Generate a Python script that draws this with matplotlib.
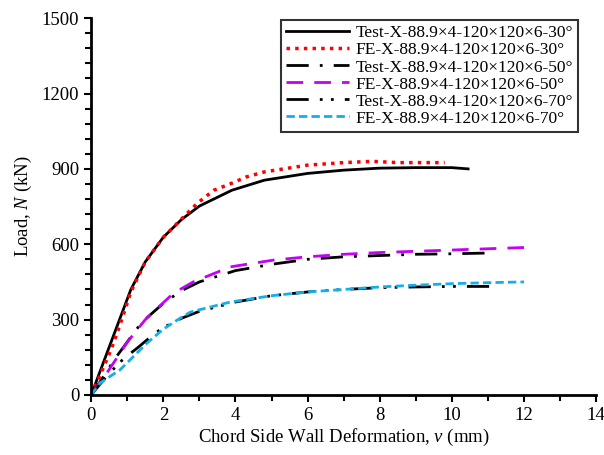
import matplotlib.pyplot as plt
from matplotlib.ticker import MultipleLocator

plt.rcParams["font.family"] = ["Liberation Serif", "DejaVu Serif"]
plt.rcParams["mathtext.fontset"] = "custom"
plt.rcParams["mathtext.it"] = "Liberation Serif:italic"
plt.rcParams["mathtext.rm"] = "Liberation Serif"

# load-deformation curves
test30_x = [0, 1.1, 1.5, 2.0, 2.5, 3.0, 3.9, 4.8, 6.0, 7.0, 8.0, 9.0, 10.0, 10.45]
test30_y = [0, 420, 530, 628, 698, 752, 815, 855, 882, 895, 903, 905, 905, 900]
fe30_x = [0, 0.25, 0.55, 0.8, 1.1, 1.5, 2.0, 2.5, 2.95, 3.4, 3.9, 4.3, 4.8, 6.0, 7.0, 7.8, 8.5, 9.8]
fe30_y = [0, 80, 180, 280, 410, 530, 628, 700, 764, 815, 843, 868, 888, 915, 925, 930, 925, 925]
test50_x = [0, 0.35, 0.67, 0.9, 1.2, 1.42, 2.0, 2.5, 3.0, 4.0, 5.0, 6.0, 7.0, 8.0, 9.0, 10.0, 11.0]
test50_y = [0, 75, 147, 191, 251, 291, 365, 415, 450, 495, 520, 540, 550, 555, 560, 562, 565]
fe50_x = [0, 0.4, 1.0, 1.5, 2.28, 2.83, 3.86, 5.06, 6.0, 7.0, 8.0, 10.0, 12.0]
fe50_y = [0, 80, 210, 300, 405, 450, 510, 537, 550, 560, 567, 577, 587]
test70_x = [0, 0.4, 0.8, 1.03, 1.28, 1.78, 2.0, 2.5, 3.0, 4.0, 5.0, 6.0, 7.0, 8.0, 9.0, 10.0, 11.2]
test70_y = [0, 70, 131, 159, 187, 247, 268, 305, 333, 370, 395, 410, 420, 427, 430, 432, 432]
fe70_x = [0, 0.25, 0.8, 1.55, 2.0, 2.47, 2.75, 3.3, 3.86, 5.0, 6.0, 7.0, 8.0, 9.0, 10.0, 11.0, 12.0]
fe70_y = [0, 48, 100, 207, 262, 306, 330, 350, 370, 395, 410, 420, 430, 437, 443, 447, 450]

labels = [
    "Test-X-88.9\u00d74-120\u00d7120\u00d76-30\u00b0",
    "FE-X-88.9\u00d74-120\u00d7120\u00d76-30\u00b0",
    "Test-X-88.9\u00d74-120\u00d7120\u00d76-50\u00b0",
    "FE-X-88.9\u00d74-120\u00d7120\u00d76-50\u00b0",
    "Test-X-88.9\u00d74-120\u00d7120\u00d76-70\u00b0",
    "FE-X-88.9\u00d74-120\u00d7120\u00d76-70\u00b0",
]

fig = plt.figure(figsize=(6.04, 4.55), dpi=100)
ax = fig.add_axes([0.151, 0.132, 0.836, 0.828])

ax.plot(test30_x, test30_y, color="black", lw=2, label=labels[0])
ax.plot(fe30_x, fe30_y, color="red", lw=2.5, linestyle=(0, (1, 1.5)), label=labels[1])
ax.plot(test50_x, test50_y, color="black", lw=2, linestyle=(0, (8, 4, 1, 4)), label=labels[2])
ax.plot(fe50_x, fe50_y, color="#c400f5", lw=2, linestyle=(0, (6, 4)), label=labels[3])
ax.plot(test70_x, test70_y, color="black", lw=2, linestyle=(0, (8, 4, 1, 3, 1, 4)), label=labels[4])
ax.plot(fe70_x, fe70_y, color="#14aeea", lw=2, linestyle=(0, (3, 1.5)), label=labels[5])

ax.set_xlim(0, 14)
ax.set_ylim(0, 1500)
ax.xaxis.set_major_locator(MultipleLocator(2))
ax.xaxis.set_minor_locator(MultipleLocator(1))
ax.yaxis.set_major_locator(MultipleLocator(300))
ax.yaxis.set_minor_locator(MultipleLocator(60))
ax.tick_params(which="both", direction="out", width=1.5, labelsize=13.5)
ax.tick_params(which="major", length=5)
ax.tick_params(which="minor", length=4)
for side in ["top", "right"]:
    ax.spines[side].set_visible(False)
for side in ["left", "bottom"]:
    ax.spines[side].set_linewidth(2)

ax.set_xlabel("Chord Side Wall Deformation, $\\it{v}$ (mm)", fontsize=13.5, labelpad=2)
ax.set_ylabel("Load, $\\it{N}$ (kN)", fontsize=13.5, labelpad=6)

leg = ax.legend(loc="upper right", bbox_to_anchor=(0.982, 1.018), fontsize=12.5,
                frameon=True, fancybox=False, edgecolor="black",
                handlelength=3.6, labelspacing=0.05, borderpad=0.3, handletextpad=0.4)
leg.get_frame().set_linewidth(1.5)

fig.savefig("out.png", dpi=100)
